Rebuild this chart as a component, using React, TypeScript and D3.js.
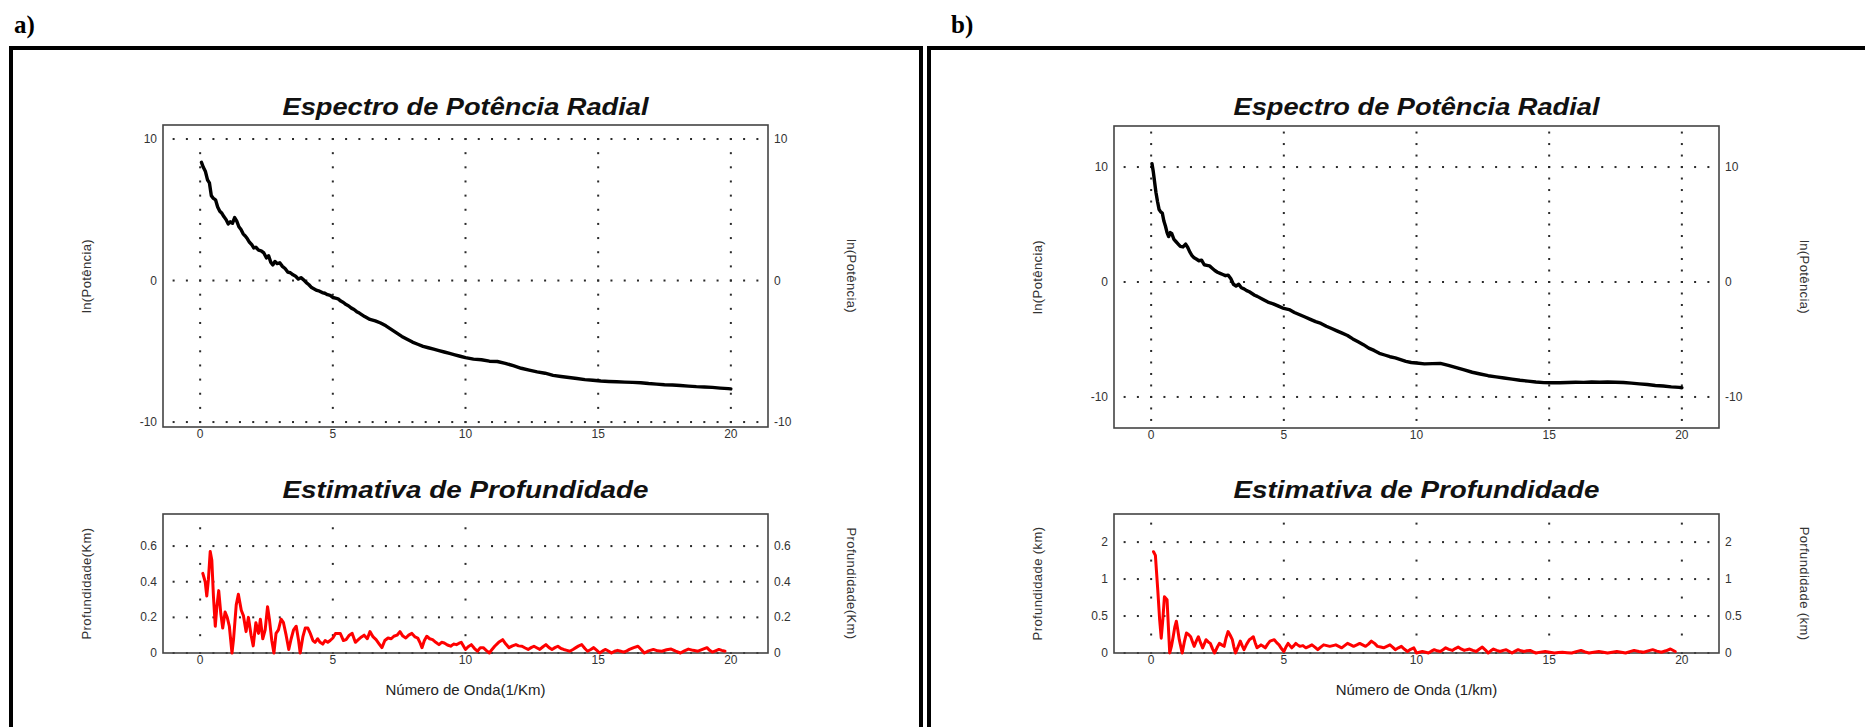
import React from 'react';
import * as d3 from 'd3';

// ---------- DATA ----------
const xTicks = [0, 5, 10, 15, 20];
const xTickLabels = ['0', '5', '10', '15', '20'];

const specTicks = [-10, 0, 10];
const specTickLabels = ['-10', '0', '10'];

const depthTicksA = [0, 0.2, 0.4, 0.6];
const depthTickLabelsA = ['0', '0.2', '0.4', '0.6'];
const depthTicksB = [0, 0.5, 1, 1.5];
const depthTickLabelsB = ['0', '0.5', '1', '2'];

const panelLabels = ['a)', 'b)'];
const titleSpectrum = 'Espectro de Potência Radial';
const titleDepth = 'Estimativa de Profundidade';
const yTitleSpectrum = 'ln(Potência)';
const yTitleDepthA = 'Profundidade(Km)';
const yTitleDepthB = 'Profundidade (km)';
const yTitleDepthBRight = 'Porfundidade (km)';
const xTitleA = 'Número de Onda(1/Km)';
const xTitleB = 'Número de Onda (1/km)';

// ln(power) vs wavenumber, panel a
const spectrumA: [number, number][] = [
  [0.05, 8.35], [0.12, 8.0], [0.2, 7.7], [0.28, 7.1], [0.35, 6.9], [0.42, 6.0], [0.5, 5.8], [0.58, 5.7],
  [0.66, 5.2], [0.74, 4.9], [0.82, 4.75], [0.9, 4.5], [0.98, 4.3], [1.06, 4.0], [1.14, 4.15], [1.22, 4.05],
  [1.3, 4.45], [1.38, 4.2], [1.46, 3.8], [1.54, 3.6], [1.62, 3.3], [1.7, 3.15], [1.78, 2.95], [1.86, 2.7],
  [1.94, 2.55], [2.02, 2.3], [2.1, 2.35], [2.2, 2.15], [2.3, 2.1], [2.4, 1.95], [2.5, 1.6], [2.58, 1.75],
  [2.66, 1.3], [2.74, 1.1], [2.82, 1.35], [2.9, 1.2], [3.0, 1.25], [3.1, 1.0], [3.2, 0.85], [3.3, 0.6],
  [3.4, 0.55], [3.5, 0.4], [3.6, 0.3], [3.7, 0.1], [3.8, 0.2], [3.9, 0.05], [4.0, -0.15], [4.1, -0.3],
  [4.2, -0.5], [4.3, -0.6], [4.4, -0.7], [4.5, -0.75], [4.6, -0.85], [4.7, -0.9], [4.8, -1.0], [4.9, -1.05],
  [5.0, -1.2], [5.1, -1.25], [5.2, -1.3], [5.3, -1.45], [5.4, -1.55], [5.5, -1.7], [5.6, -1.8], [5.7, -1.95],
  [5.8, -2.05], [5.9, -2.2], [6.0, -2.3], [6.2, -2.55], [6.4, -2.75], [6.6, -2.85], [6.8, -3.0], [7.0, -3.2],
  [7.2, -3.45], [7.4, -3.7], [7.6, -3.95], [7.8, -4.15], [8.0, -4.35], [8.2, -4.5], [8.4, -4.65], [8.6, -4.75],
  [8.8, -4.85], [9.0, -4.95], [9.2, -5.05], [9.4, -5.15], [9.6, -5.25], [9.8, -5.35], [10.0, -5.45], [10.3, -5.55],
  [10.6, -5.6], [10.9, -5.7], [11.2, -5.72], [11.5, -5.85], [11.8, -6.02], [12.1, -6.2], [12.4, -6.33], [12.7, -6.45],
  [13.0, -6.55], [13.3, -6.7], [13.6, -6.78], [13.9, -6.85], [14.2, -6.92], [14.5, -7.0], [14.8, -7.05], [15.1, -7.1],
  [15.4, -7.13], [15.7, -7.15], [16.0, -7.18], [16.3, -7.2], [16.6, -7.22], [16.9, -7.28], [17.2, -7.32], [17.5, -7.36],
  [17.8, -7.38], [18.1, -7.42], [18.4, -7.46], [18.7, -7.5], [19.0, -7.52], [19.3, -7.55], [19.6, -7.6], [19.9, -7.64],
  [20.0, -7.66],
];

// ln(power) vs wavenumber, panel b
const spectrumB: [number, number][] = [
  [0.03, 10.3], [0.08, 9.6], [0.13, 8.7], [0.18, 7.8], [0.24, 7.0], [0.3, 6.3], [0.36, 6.1], [0.42, 6.0],
  [0.48, 5.3], [0.54, 4.85], [0.6, 4.3], [0.66, 3.95], [0.72, 4.3], [0.78, 4.2], [0.86, 3.7], [0.94, 3.5],
  [1.02, 3.3], [1.1, 3.1], [1.2, 3.05], [1.3, 3.3], [1.38, 3.0], [1.46, 2.6], [1.54, 2.3], [1.62, 2.1],
  [1.7, 2.0], [1.8, 1.85], [1.9, 1.9], [2.0, 1.5], [2.1, 1.45], [2.2, 1.4], [2.3, 1.2], [2.4, 1.0],
  [2.5, 0.85], [2.6, 0.75], [2.7, 0.65], [2.8, 0.55], [2.9, 0.6], [3.0, 0.3], [3.1, -0.2], [3.2, -0.35],
  [3.3, -0.2], [3.4, -0.5], [3.5, -0.6], [3.6, -0.75], [3.7, -0.85], [3.8, -1.0], [3.9, -1.15], [4.0, -1.25],
  [4.2, -1.5], [4.4, -1.75], [4.6, -1.9], [4.8, -2.1], [5.0, -2.3], [5.2, -2.4], [5.4, -2.65], [5.6, -2.85],
  [5.8, -3.05], [6.0, -3.25], [6.2, -3.45], [6.4, -3.6], [6.6, -3.85], [6.8, -4.05], [7.0, -4.25], [7.2, -4.45],
  [7.4, -4.65], [7.6, -4.95], [7.8, -5.2], [8.0, -5.45], [8.2, -5.75], [8.4, -5.95], [8.6, -6.2], [8.8, -6.35],
  [9.0, -6.5], [9.2, -6.6], [9.4, -6.75], [9.6, -6.9], [9.8, -7.0], [10.0, -7.05], [10.3, -7.12], [10.6, -7.1],
  [10.9, -7.08], [11.2, -7.25], [11.5, -7.45], [11.8, -7.65], [12.1, -7.85], [12.4, -8.0], [12.7, -8.15], [13.0, -8.25],
  [13.3, -8.35], [13.6, -8.45], [13.9, -8.55], [14.2, -8.62], [14.5, -8.7], [14.8, -8.75], [15.1, -8.77], [15.4, -8.76],
  [15.7, -8.74], [16.0, -8.72], [16.3, -8.73], [16.6, -8.7], [16.9, -8.72], [17.2, -8.7], [17.5, -8.72], [17.8, -8.74],
  [18.1, -8.8], [18.4, -8.86], [18.7, -8.92], [19.0, -9.0], [19.3, -9.05], [19.6, -9.12], [19.9, -9.17], [20.0, -9.2],
];

// depth estimate vs wavenumber, panel a
const depthA: [number, number][] = [
  [0.1, 0.447], [0.19, 0.4], [0.25, 0.32], [0.31, 0.41], [0.38, 0.57], [0.44, 0.52], [0.5, 0.32], [0.57, 0.15],
  [0.63, 0.26], [0.7, 0.35], [0.78, 0.22], [0.85, 0.14], [0.94, 0.23], [1.02, 0.2], [1.1, 0.15], [1.2, 0.0],
  [1.26, 0.08], [1.36, 0.27], [1.44, 0.33], [1.55, 0.24], [1.63, 0.21], [1.73, 0.12], [1.82, 0.2], [1.92, 0.1],
  [2.0, 0.04], [2.1, 0.17], [2.2, 0.11], [2.27, 0.19], [2.36, 0.08], [2.45, 0.13], [2.54, 0.26], [2.61, 0.19],
  [2.7, 0.07], [2.78, 0.0], [2.86, 0.11], [2.95, 0.13], [3.05, 0.19], [3.14, 0.17], [3.24, 0.1], [3.34, 0.02],
  [3.43, 0.08], [3.52, 0.13], [3.62, 0.15], [3.71, 0.07], [3.77, 0.0], [3.87, 0.09], [3.96, 0.14], [4.06, 0.14],
  [4.15, 0.11], [4.25, 0.07], [4.33, 0.06], [4.43, 0.08], [4.52, 0.06], [4.62, 0.05], [4.71, 0.07], [4.81, 0.06],
  [4.9, 0.07], [5.0, 0.084], [5.1, 0.11], [5.28, 0.11], [5.4, 0.07], [5.5, 0.075], [5.62, 0.1], [5.73, 0.11],
  [5.85, 0.06], [5.96, 0.075], [6.08, 0.09], [6.18, 0.1], [6.3, 0.08], [6.4, 0.12], [6.52, 0.09], [6.63, 0.075],
  [6.75, 0.05], [6.85, 0.03], [6.96, 0.07], [7.08, 0.084], [7.2, 0.08], [7.3, 0.094], [7.42, 0.1], [7.53, 0.12],
  [7.64, 0.095], [7.75, 0.084], [7.86, 0.1], [7.98, 0.11], [8.1, 0.09], [8.2, 0.084], [8.28, 0.06], [8.36, 0.03],
  [8.45, 0.07], [8.54, 0.094], [8.65, 0.08], [8.76, 0.075], [8.88, 0.06], [9.0, 0.047], [9.1, 0.06], [9.2, 0.056],
  [9.32, 0.045], [9.44, 0.038], [9.55, 0.05], [9.66, 0.047], [9.76, 0.055], [9.84, 0.06], [10.0, 0.02], [10.1, 0.035],
  [10.22, 0.047], [10.34, 0.025], [10.45, 0.01], [10.56, 0.03], [10.67, 0.03], [10.78, 0.015], [10.9, 0.0], [11.0, 0.02],
  [11.1, 0.038], [11.25, 0.06], [11.4, 0.075], [11.52, 0.05], [11.64, 0.03], [11.77, 0.04], [11.9, 0.047], [12.0, 0.04],
  [12.13, 0.038], [12.25, 0.028], [12.36, 0.02], [12.47, 0.03], [12.58, 0.038], [12.7, 0.028], [12.8, 0.02], [12.92, 0.035],
  [13.03, 0.047], [13.15, 0.03], [13.26, 0.02], [13.37, 0.03], [13.48, 0.038], [13.6, 0.025], [13.7, 0.02], [13.82, 0.015],
  [13.93, 0.01], [14.05, 0.02], [14.16, 0.03], [14.27, 0.04], [14.38, 0.047], [14.5, 0.025], [14.6, 0.01], [14.72, 0.02],
  [14.83, 0.03], [14.95, 0.015], [15.06, 0.0], [15.17, 0.012], [15.28, 0.02], [15.4, 0.01], [15.5, 0.0], [15.62, 0.01],
  [15.73, 0.015], [15.85, 0.01], [15.96, 0.005], [16.08, 0.012], [16.18, 0.02], [16.34, 0.03], [16.5, 0.038], [16.62, 0.02],
  [16.74, 0.0], [16.9, 0.012], [17.08, 0.02], [17.24, 0.012], [17.4, 0.01], [17.58, 0.018], [17.75, 0.022], [17.92, 0.01],
  [18.1, 0.0], [18.25, 0.012], [18.4, 0.022], [18.58, 0.015], [18.76, 0.01], [18.93, 0.02], [19.1, 0.03], [19.2, 0.015],
  [19.3, 0.005], [19.42, 0.012], [19.55, 0.02], [19.66, 0.015], [19.78, 0.01],
];

// depth estimate vs wavenumber, panel b
const depthB: [number, number][] = [
  [0.09, 1.37], [0.16, 1.32], [0.25, 0.85], [0.32, 0.45], [0.38, 0.2], [0.44, 0.45], [0.5, 0.76], [0.6, 0.72],
  [0.65, 0.35], [0.7, 0.0], [0.77, 0.1], [0.83, 0.22], [0.89, 0.35], [0.95, 0.43], [1.0, 0.32], [1.06, 0.18],
  [1.17, 0.0], [1.25, 0.15], [1.33, 0.27], [1.41, 0.25], [1.49, 0.22], [1.56, 0.15], [1.62, 0.09], [1.7, 0.16],
  [1.78, 0.22], [1.86, 0.14], [1.94, 0.07], [2.0, 0.12], [2.07, 0.18], [2.15, 0.15], [2.23, 0.13], [2.31, 0.06],
  [2.39, 0.0], [2.48, 0.07], [2.57, 0.13], [2.66, 0.11], [2.75, 0.09], [2.82, 0.2], [2.9, 0.29], [2.98, 0.24],
  [3.06, 0.18], [3.12, 0.08], [3.18, 0.0], [3.27, 0.08], [3.36, 0.16], [3.43, 0.1], [3.5, 0.045], [3.6, 0.12],
  [3.7, 0.18], [3.78, 0.2], [3.85, 0.22], [3.92, 0.14], [3.99, 0.07], [4.07, 0.09], [4.14, 0.11], [4.22, 0.09],
  [4.3, 0.07], [4.39, 0.12], [4.48, 0.16], [4.56, 0.17], [4.64, 0.18], [4.73, 0.14], [4.82, 0.11], [4.91, 0.06],
  [5.0, 0.02], [5.08, 0.08], [5.16, 0.13], [5.23, 0.1], [5.3, 0.07], [5.38, 0.1], [5.45, 0.13], [5.52, 0.11],
  [5.6, 0.09], [5.72, 0.1], [5.83, 0.07], [5.95, 0.09], [6.06, 0.11], [6.17, 0.08], [6.28, 0.045], [6.39, 0.08],
  [6.5, 0.11], [6.62, 0.1], [6.73, 0.09], [6.85, 0.1], [6.96, 0.11], [7.07, 0.09], [7.18, 0.07], [7.29, 0.1],
  [7.4, 0.13], [7.52, 0.11], [7.63, 0.09], [7.75, 0.11], [7.86, 0.13], [7.97, 0.11], [8.08, 0.09], [8.19, 0.12],
  [8.3, 0.16], [8.42, 0.13], [8.53, 0.09], [8.65, 0.08], [8.76, 0.07], [8.88, 0.09], [9.0, 0.11], [9.1, 0.08],
  [9.2, 0.045], [9.32, 0.07], [9.43, 0.09], [9.55, 0.05], [9.66, 0.02], [9.78, 0.05], [9.9, 0.07], [10.0, 0.0],
  [10.11, 0.01], [10.22, 0.02], [10.34, 0.01], [10.45, 0.0], [10.56, 0.025], [10.67, 0.045], [10.78, 0.03], [10.9, 0.02],
  [11.0, 0.045], [11.1, 0.07], [11.22, 0.05], [11.35, 0.035], [11.46, 0.06], [11.57, 0.08], [11.68, 0.055], [11.8, 0.035],
  [11.9, 0.045], [12.0, 0.054], [12.12, 0.035], [12.25, 0.02], [12.36, 0.05], [12.48, 0.08], [12.6, 0.04], [12.7, 0.0],
  [12.8, 0.03], [12.9, 0.054], [13.02, 0.035], [13.15, 0.02], [13.27, 0.035], [13.38, 0.045], [13.5, 0.02], [13.6, 0.0],
  [13.72, 0.025], [13.83, 0.045], [13.94, 0.03], [14.05, 0.02], [14.16, 0.03], [14.28, 0.035], [14.4, 0.015], [14.5, 0.0],
  [14.68, 0.012], [14.85, 0.02], [15.02, 0.01], [15.2, 0.0], [15.35, 0.006], [15.5, 0.01], [15.68, 0.005], [15.85, 0.0],
  [16.02, 0.018], [16.2, 0.035], [16.35, 0.015], [16.5, 0.0], [16.68, 0.01], [16.87, 0.02], [17.04, 0.01], [17.2, 0.0],
  [17.38, 0.01], [17.55, 0.02], [17.72, 0.01], [17.88, 0.0], [18.04, 0.018], [18.2, 0.035], [18.38, 0.02], [18.56, 0.01],
  [18.73, 0.028], [18.9, 0.045], [19.06, 0.025], [19.23, 0.01], [19.4, 0.03], [19.57, 0.054], [19.75, 0.02],
];

// ---------- LAYOUT ----------
const W = 1865;
const H = 727;
const X_DOMAIN: [number, number] = [-1.4, 21.4];
const FONT = '"Liberation Sans", Arial, sans-serif';
const TICK_COLOR = '#333';

type PlotProps = {
  left: number; right: number; top: number; bottom: number;
  yDomain: [number, number];
  yTicks: number[]; yLabels: string[];
  gridY: number[]; gridX: number[]; vDots: number[];
  data: [number, number][];
  color: string; lineWidth: number;
  title: string; titleY: number;
  yTitle: string; yTitleRight: string; yTitleLeftX: number; yTitleRightX: number;
  xTitle?: string;
};

function Plot(p: PlotProps) {
  const x = d3.scaleLinear().domain(X_DOMAIN).range([p.left, p.right]);
  const y = d3.scaleLinear().domain(p.yDomain).range([p.bottom, p.top]);
  const line = d3.line<[number, number]>().x(d => x(d[0])).y(d => y(d[1]));
  const hDotX = d3.range(-1, 21.01, 0.5);
  const cx = (p.left + p.right) / 2;
  const cy = (p.top + p.bottom) / 2;
  const dots: JSX.Element[] = [];
  p.gridY.forEach((gy, i) => {
    hDotX.forEach((k, j) => {
      dots.push(<rect key={`h${i}-${j}`} x={x(k) - 1} y={y(gy) - 1} width={2} height={2} fill="#2a2a2a" />);
    });
  });
  p.gridX.forEach((gx, i) => {
    p.vDots.forEach((v, j) => {
      dots.push(<rect key={`v${i}-${j}`} x={x(gx) - 1} y={y(v) - 1} width={2} height={2} fill="#2a2a2a" />);
    });
  });
  return (
    <g>
      <text x={cx} y={p.titleY} textAnchor="middle" fontFamily={FONT} fontWeight="bold" fontStyle="italic"
        fontSize={23} textLength={366} lengthAdjust="spacingAndGlyphs" fill="#111">{p.title}</text>
      {dots}
      <rect x={p.left} y={p.top} width={p.right - p.left} height={p.bottom - p.top} fill="none" stroke="#444" strokeWidth={1.6} />
      <path d={line(p.data) || ''} fill="none" stroke={p.color} strokeWidth={p.lineWidth} strokeLinejoin="round" strokeLinecap="round" />
      {p.yTicks.map((t, i) => (
        <g key={`yt${i}`}>
          <text x={p.left - 6} y={y(t) + 4} textAnchor="end" fontFamily={FONT} fontSize={12} fill={TICK_COLOR}>{p.yLabels[i]}</text>
          <text x={p.right + 6} y={y(t) + 4} textAnchor="start" fontFamily={FONT} fontSize={12} fill={TICK_COLOR}>{p.yLabels[i]}</text>
        </g>
      ))}
      {xTicks.map((t, i) => (
        <text key={`xt${i}`} x={x(t)} y={p.bottom + 11} textAnchor="middle" fontFamily={FONT} fontSize={12} fill={TICK_COLOR}>{xTickLabels[i]}</text>
      ))}
      <text transform={`translate(${p.yTitleLeftX},${cy}) rotate(-90)`} textAnchor="middle" dominantBaseline="central"
        fontFamily={FONT} fontSize={13} letterSpacing={0.4} fill={TICK_COLOR}>{p.yTitle}</text>
      <text transform={`translate(${p.yTitleRightX},${cy}) rotate(90)`} textAnchor="middle" dominantBaseline="central"
        fontFamily={FONT} fontSize={13} letterSpacing={0.4} fill={TICK_COLOR}>{p.yTitleRight}</text>
      {p.xTitle && (
        <text x={cx} y={p.bottom + 42} textAnchor="middle" fontFamily={FONT} fontSize={15} fill="#222">{p.xTitle}</text>
      )}
    </g>
  );
}

function intRange(dom: [number, number]) {
  return d3.range(Math.ceil(dom[0]), Math.floor(dom[1]) + 1);
}

export default function App() {
  const domUA: [number, number] = [-10.35, 10.99];
  const domUB: [number, number] = [-12.7, 13.57];
  const domLA: [number, number] = [0, 0.78];
  const domLB: [number, number] = [0, 1.88];
  const serif = '"Liberation Serif", "Times New Roman", serif';
  return (
    <svg width={W} height={H} style={{ position: 'absolute', left: 0, top: 0, background: '#fff' }}>
      <rect x={0} y={0} width={W} height={H} fill="#fff" />
      {/* panel labels */}
      <text x={14} y={33} fontFamily={serif} fontWeight="bold" fontSize={25} fill="#000">{panelLabels[0]}</text>
      <text x={951} y={33} fontFamily={serif} fontWeight="bold" fontSize={25} fill="#000">{panelLabels[1]}</text>
      {/* panel frames */}
      <rect x={11} y={48} width={910} height={720} fill="none" stroke="#000" strokeWidth={4} />
      <rect x={929} y={48} width={980} height={720} fill="none" stroke="#000" strokeWidth={4} />

      {/* panel a */}
      <Plot left={163} right={768} top={125} bottom={427} yDomain={domUA}
        yTicks={specTicks} yLabels={specTickLabels} gridY={specTicks} gridX={xTicks} vDots={intRange(domUA)}
        data={spectrumA} color="#000" lineWidth={3.4} title={titleSpectrum} titleY={115}
        yTitle={yTitleSpectrum} yTitleRight={yTitleSpectrum} yTitleLeftX={86} yTitleRightX={851} />
      <Plot left={163} right={768} top={514} bottom={653} yDomain={domLA}
        yTicks={depthTicksA} yLabels={depthTickLabelsA} gridY={depthTicksA} gridX={[0, 5, 10]} vDots={[0.1, 0.3, 0.5, 0.7]}
        data={depthA} color="#ff0000" lineWidth={3} title={titleDepth} titleY={498}
        yTitle={yTitleDepthA} yTitleRight={yTitleDepthA} yTitleLeftX={86} yTitleRightX={851} xTitle={xTitleA} />

      {/* panel b */}
      <Plot left={1114} right={1719} top={126} bottom={428} yDomain={domUB}
        yTicks={specTicks} yLabels={specTickLabels} gridY={specTicks} gridX={xTicks} vDots={intRange(domUB)}
        data={spectrumB} color="#000" lineWidth={3.4} title={titleSpectrum} titleY={115}
        yTitle={yTitleSpectrum} yTitleRight={yTitleSpectrum} yTitleLeftX={1037} yTitleRightX={1804} />
      <Plot left={1114} right={1719} top={514} bottom={653} yDomain={domLB}
        yTicks={depthTicksB} yLabels={depthTickLabelsB} gridY={depthTicksB} gridX={xTicks} vDots={[0.25, 0.75, 1.25, 1.75]}
        data={depthB} color="#ff0000" lineWidth={3} title={titleDepth} titleY={498}
        yTitle={yTitleDepthB} yTitleRight={yTitleDepthBRight} yTitleLeftX={1037} yTitleRightX={1804} xTitle={xTitleB} />
    </svg>
  );
}
